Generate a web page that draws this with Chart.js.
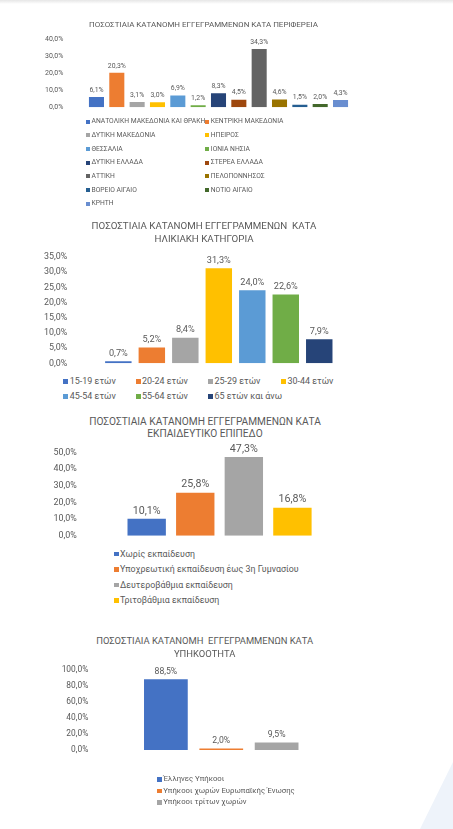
<!DOCTYPE html>
<html>
<head>
<meta charset="utf-8">
<script src="https://cdn.jsdelivr.net/npm/chart.js@4/dist/chart.umd.min.js"></script>
<style>
  html, body { margin:0; padding:0; }
  body { width:453px; height:829px; position:relative; overflow:hidden; background:#ffffff; font-family: Roboto, "Noto Sans", sans-serif; color:#595959; }
  .topshade { position:absolute; left:0; top:0; width:453px; height:4px; background:linear-gradient(#e6e6e6, rgba(255,255,255,0)); }
  .corner { position:absolute; left:0; top:0; width:453px; height:829px; background:#eef3fa; clip-path: polygon(420px 829px, 453px 762px, 453px 829px); }
  canvas { position:absolute; left:0; }
  .title { position:absolute; text-align:center; white-space:pre; line-height:1; transform:translate(-50%,-50%); color:#595959; }
  .leg { position:absolute; display:flex; align-items:center; white-space:pre; line-height:1; color:#595959; }
  .leg i { display:inline-block; flex:none; }
</style>
</head>
<body>
<div class="topshade"></div>
<div class="corner"></div>
<canvas id="c1"></canvas>
<canvas id="c2"></canvas>
<canvas id="c3"></canvas>
<canvas id="c4"></canvas>
<script>
// ---------- DATA ----------
const regionTitle = ["ΠΟΣΟΣΤΙΑΙΑ ΚΑΤΑΝΟΜΗ ΕΓΓΕΓΡΑΜΜΕΝΩΝ ΚΑΤΑ ΠΕΡΙΦΕΡΕΙΑ"];
const regionLabels = ["ΑΝΑΤΟΛΙΚΗ ΜΑΚΕΔΟΝΙΑ ΚΑΙ ΘΡΑΚΗ","ΚΕΝΤΡΙΚΗ ΜΑΚΕΔΟΝΙΑ","ΔΥΤΙΚΗ ΜΑΚΕΔΟΝΙΑ","ΗΠΕΙΡΟΣ","ΘΕΣΣΑΛΙΑ","ΙΟΝΙΑ ΝΗΣΙΑ","ΔΥΤΙΚΗ ΕΛΛΑΔΑ","ΣΤΕΡΕΑ ΕΛΛΑΔΑ","ΑΤΤΙΚΗ","ΠΕΛΟΠΟΝΝΗΣΟΣ","ΒΟΡΕΙΟ ΑΙΓΑΙΟ","ΝΟΤΙΟ ΑΙΓΑΙΟ","ΚΡΗΤΗ"];
const regionValues = [6.1, 20.3, 3.1, 3.0, 6.9, 1.2, 8.3, 4.5, 34.3, 4.6, 1.5, 2.0, 4.3];
const regionColors = ["#4472C4","#ED7D31","#A5A5A5","#FFC000","#5B9BD5","#70AD47","#264478","#9E480E","#636363","#997300","#255E91","#43682B","#698ED0"];
const regionTicks = [0, 10, 20, 30, 40];

const ageTitle = ["ΠΟΣΟΣΤΙΑΙΑ ΚΑΤΑΝΟΜΗ ΕΓΓΕΓΡΑΜΜΕΝΩΝ  ΚΑΤΑ", "ΗΛΙΚΙΑΚΗ ΚΑΤΗΓΟΡΙΑ"];
const ageLabels = ["15-19 ετών","20-24 ετών","25-29 ετών","30-44 ετών","45-54 ετών","55-64 ετών","65 ετών και άνω"];
const ageValues = [0.7, 5.2, 8.4, 31.3, 24.0, 22.6, 7.9];
const ageColors = ["#4472C4","#ED7D31","#A5A5A5","#FFC000","#5B9BD5","#70AD47","#264478"];
const ageTicks = [0, 5, 10, 15, 20, 25, 30, 35];

const eduTitle = ["ΠΟΣΟΣΤΙΑΙΑ ΚΑΤΑΝΟΜΗ ΕΓΓΕΓΡΑΜΜΕΝΩΝ ΚΑΤΑ", "ΕΚΠΑΙΔΕΥΤΙΚΟ ΕΠΙΠΕΔΟ"];
const eduLabels = ["Χωρίς εκπαίδευση","Υποχρεωτική εκπαίδευση έως 3η Γυμνασίου","Δευτεροβάθμια εκπαίδευση","Τριτοβάθμια εκπαίδευση"];
const eduValues = [10.1, 25.8, 47.3, 16.8];
const eduColors = ["#4472C4","#ED7D31","#A5A5A5","#FFC000"];
const eduTicks = [0, 10, 20, 30, 40, 50];

const natTitle = ["ΠΟΣΟΣΤΙΑΙΑ ΚΑΤΑΝΟΜΗ  ΕΓΓΕΓΡΑΜΜΕΝΩΝ ΚΑΤΑ", "ΥΠΗΚΟΟΤΗΤΑ"];
const natLabels = ["Έλληνες Υπήκοοι","Υπήκοοι χωρών Ευρωπαϊκής Ένωσης","Υπήκοοι τρίτων χωρών"];
const natValues = [88.5, 2.0, 9.5];
const natColors = ["#4472C4","#ED7D31","#A5A5A5"];
const natTicks = [0, 20, 40, 60, 80, 100];

// ---------- HELPERS ----------
const FONT = 'Roboto, "Noto Sans", sans-serif';
const TEXT = '#595959';
const fmt = v => v.toFixed(1).replace('.', ',') + '%';

const mctx = document.createElement('canvas').getContext('2d');
// font size at which `text` is `target` px wide
function fitSize(text, target) {
  mctx.font = '100px ' + FONT;
  return 100 * target / mctx.measureText(text).width;
}

const valueLabels = {
  id: 'valueLabels',
  afterDatasetsDraw(chart, args, opts) {
    const ctx = chart.ctx;
    chart.data.datasets.forEach((ds, di) => {
      const meta = chart.getDatasetMeta(di);
      meta.data.forEach((bar, i) => {
        const v = ds.data[i];
        if (v == null) return;
        ctx.save();
        ctx.font = opts.size + 'px ' + FONT;
        ctx.fillStyle = TEXT;
        ctx.textAlign = 'center';
        ctx.textBaseline = 'middle';
        ctx.fillText(fmt(v), bar.x, bar.y - opts.offset);
        ctx.restore();
      });
    });
  }
};

function addTitle(lines, cx, ys, width) {
  const size = fitSize(lines[0], width);
  lines.forEach((t, i) => {
    const d = document.createElement('div');
    d.className = 'title';
    d.textContent = t;
    d.style.left = cx + 'px';
    d.style.top = ys[i] + 'px';
    d.style.fontSize = size + 'px';
    document.body.appendChild(d);
  });
}

function addLegendItem(text, color, x, y, sq, size) {
  const d = document.createElement('div');
  d.className = 'leg';
  d.style.left = x + 'px';
  d.style.top = (y - 6) + 'px';
  d.style.height = '12px';
  d.style.fontSize = size + 'px';
  const s = document.createElement('i');
  s.style.width = sq + 'px';
  s.style.height = sq + 'px';
  s.style.background = color;
  s.style.marginRight = '1.5px';
  d.appendChild(s);
  d.appendChild(document.createTextNode(text));
  document.body.appendChild(d);
}

function makeChart(id, spec) {
  const cv = document.getElementById(id);
  const top = Math.round(spec.area.t - 12);
  const h = Math.round(spec.area.b + 10) - top;
  const w = Math.round(spec.area.r + 5);
  cv.width = w; cv.height = h;
  cv.style.top = top + 'px';
  cv.style.width = w + 'px'; cv.style.height = h + 'px';
  const ticks = spec.ticks;
  return new Chart(cv, {
    type: 'bar',
    data: {
      labels: spec.labels,
      datasets: [{ data: spec.values, backgroundColor: spec.colors, borderWidth: 0, barPercentage: spec.barPct, categoryPercentage: 1 }]
    },
    options: {
      responsive: false,
      animation: false,
      devicePixelRatio: 1,
      layout: { padding: { left: 0, top: spec.area.t - top, right: w - spec.area.r, bottom: top + h - spec.area.b } },
      plugins: {
        legend: { display: false },
        title: { display: false },
        tooltip: { enabled: false },
        valueLabels: { size: spec.labelSize, offset: spec.labelOffset }
      },
      scales: {
        x: { display: false },
        y: {
          min: ticks[0], max: ticks[ticks.length - 1],
          afterBuildTicks: s => { s.ticks = ticks.map(v => ({ value: v })); },
          afterFit: s => { s.width = spec.area.l; s.paddingTop = 0; s.paddingBottom = 0; },
          grid: { display: false, drawTicks: false },
          border: { display: false },
          ticks: { autoSkip: false, padding: spec.area.l - spec.tickRight, color: TEXT, font: { family: FONT, size: spec.tickSize }, callback: v => fmt(v) }
        }
      }
    },
    plugins: [valueLabels]
  });
}

// ---------- CHART 1: REGIONS ----------
addTitle(regionTitle, 203.5, [25], 229);
makeChart('c1', { labels: regionLabels, values: regionValues, colors: regionColors, ticks: regionTicks,
  area: { l: 86.3, t: 39.3, r: 350.7, b: 107.3 }, tickRight: 63.3,
  tickSize: fitSize('40,0%', 18.3), labelSize: fitSize('34,3%', 18), labelOffset: 7, barPct: 0.74 });
const leg1Size = fitSize(regionLabels[0], 114);
regionLabels.forEach((t, i) => addLegendItem(t, regionColors[i], i % 2 === 0 ? 86 : 205.3, 121.7 + Math.floor(i / 2) * 13.67, 4, leg1Size));

// ---------- CHART 2: AGE ----------
addTitle(ageTitle, 204, [225.7, 239.3], 225);
makeChart('c2', { labels: ageLabels, values: ageValues, colors: ageColors, ticks: ageTicks,
  area: { l: 101.6, t: 256.9, r: 336, b: 363.3 }, tickRight: 67.3,
  tickSize: fitSize('35,0%', 23.3), labelSize: fitSize('31,3%', 24), labelOffset: 7.7, barPct: 0.79 });
const ageCols = [63.3, 135.5, 208, 281];
const leg2Size = fitSize(ageLabels[0], 46);
ageLabels.forEach((t, i) => addLegendItem(t, ageColors[i], ageCols[i % 4], i < 4 ? 381.7 : 396, 5, leg2Size));

// ---------- CHART 3: EDUCATION ----------
addTitle(eduTitle, 205, [421.7, 434.3], 232);
makeChart('c3', { labels: eduLabels, values: eduValues, colors: eduColors, ticks: eduTicks,
  area: { l: 122.4, t: 452.4, r: 316.7, b: 535.7 }, tickRight: 76.7,
  tickSize: fitSize('50,0%', 23.3), labelSize: fitSize('47,3%', 28), labelOffset: 8, barPct: 0.79 });
const leg3Size = fitSize(eduLabels[1], 179);
eduLabels.forEach((t, i) => addLegendItem(t, eduColors[i], 114, 554 + i * 15.55, 4.5, leg3Size));

// ---------- CHART 4: NATIONALITY ----------
addTitle(natTitle, 204.7, [641, 654], 217);
makeChart('c4', { labels: natLabels, values: natValues, colors: natColors, ticks: natTicks,
  area: { l: 138.2, t: 670, r: 304.3, b: 750 }, tickRight: 88.3,
  tickSize: fitSize('100,0%', 26.7), labelSize: fitSize('88,5%', 22.7), labelOffset: 7.5, barPct: 0.79 });
const leg4Size = fitSize(natLabels[1], 131.6);
natLabels.forEach((t, i) => addLegendItem(t, natColors[i], 157.3, 779.3 + i * 11.5, 4.5, leg4Size));
</script>
</body>
</html>
